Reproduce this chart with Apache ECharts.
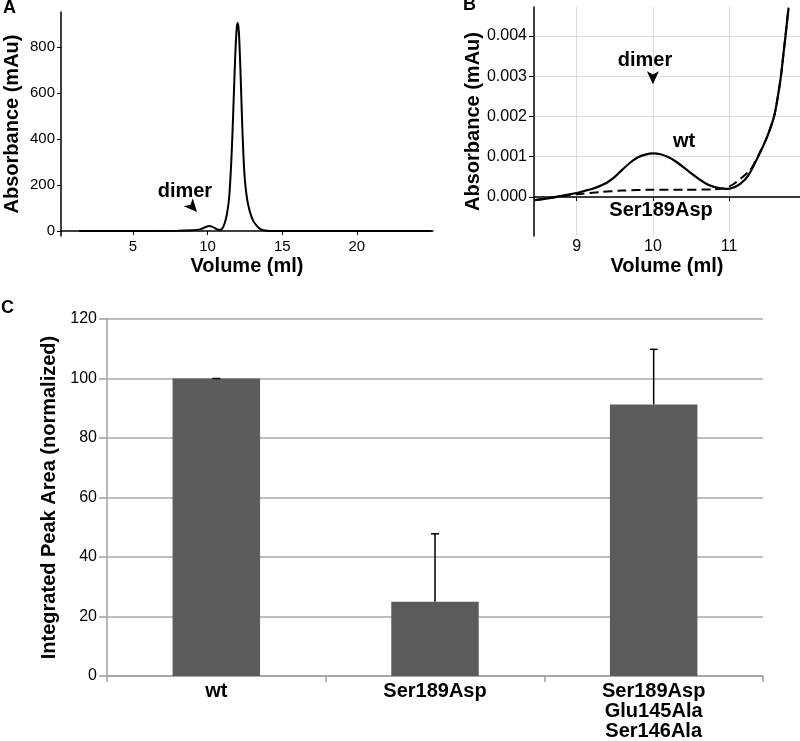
<!DOCTYPE html>
<html><head><meta charset="utf-8">
<script src="https://cdn.jsdelivr.net/npm/echarts@6/dist/echarts.min.js"></script>
<style>html,body{margin:0;padding:0;background:#fff}#c{width:800px;height:741px}</style>
</head><body><div id="c"></div>
<script>
// ---- Panel A: full chromatogram ----
const chromVolume = [1.4, 5, 8, 9, 9.5, 9.8, 10.1, 10.4, 10.65, 10.85, 11.0, 11.15, 11.3, 11.45, 11.6, 11.72, 11.85, 11.95, 12.02, 12.1, 12.2, 12.3, 12.4, 12.5, 12.6, 12.7, 12.85, 13.05, 13.3, 13.5, 13.75, 14.2, 25];
const chromAbs    = [0, 0, 1, 3, 7, 15, 22, 16, 7, 5, 12, 35, 75, 150, 320, 520, 760, 880, 905, 860, 700, 500, 330, 220, 160, 120, 80, 45, 22, 10, 3, 0, 0];
const ticksA_x = [5, 10, 15, 20];
const ticksA_y = [0, 200, 400, 600, 800];

// ---- Panel B: zoom on the dimer region ----
const wtVolume = [8.44, 8.6, 8.8, 9.0, 9.1, 9.2, 9.3, 9.4, 9.5, 9.6, 9.7, 9.8, 9.9, 10.0, 10.1, 10.2, 10.3, 10.4, 10.5, 10.6, 10.7, 10.8, 10.9, 10.97, 11.05, 11.15, 11.25, 11.38, 11.5, 11.59, 11.64, 11.68, 11.71, 11.74, 11.78];
const wtAbs    = [-0.00008, -0.00004, 0.00003, 0.0001, 0.00015, 0.0002, 0.00027, 0.00036, 0.0005, 0.00068, 0.00085, 0.00098, 0.00105, 0.00108, 0.00106, 0.00099, 0.00088, 0.00074, 0.00059, 0.00045, 0.00033, 0.00025, 0.00021, 0.0002, 0.00023, 0.00033, 0.00053, 0.001, 0.0015, 0.002, 0.0025, 0.003, 0.0035, 0.004, 0.0047];
const s189Volume = [8.44, 8.7, 9.0, 9.3, 9.6, 10.0, 10.4, 10.8, 10.95, 11.05, 11.15, 11.28, 11.38, 11.5, 11.59, 11.64, 11.68, 11.71, 11.74, 11.78];
const s189Abs    = [-0.00008, -0.00001, 0.00007, 0.00012, 0.00016, 0.00018, 0.00018, 0.00019, 0.00022, 0.00031, 0.00045, 0.00068, 0.00102, 0.0015, 0.002, 0.0025, 0.003, 0.0035, 0.004, 0.0047];
const ticksB_x = [9, 10, 11];
const ticksB_y = [0, 0.001, 0.002, 0.003, 0.004];

// ---- Panel C: integrated peak areas ----
const categories = ['wt', 'Ser189Asp', 'Ser189Asp\nGlu145Ala\nSer146Ala'];
const peakArea   = [100, 25, 91.3];
const peakErr    = [0, 22.8, 18.5];

const FONT = "'Liberation Sans', Arial, Helvetica, sans-serif";
const zip = (a, b) => a.map((v, i) => [v, b[i]]);
const boldTitle = {fontFamily: FONT, fontWeight: 'bold', fontSize: 20, color: '#000'};
const tickLab = (size) => ({fontFamily: FONT, fontSize: size, color: '#000'});
const annot = (coord, text) => ({coord, symbol: 'circle', symbolSize: 1, itemStyle: {color: 'rgba(0,0,0,0)'},
  label: {show: true, position: 'inside', formatter: text, fontFamily: FONT, fontWeight: 'bold', fontSize: 20, color: '#000'}});

const chart = echarts.init(document.getElementById('c'), null, {renderer: 'canvas'});
chart.setOption({
  animation: false,
  backgroundColor: '#fff',
  graphic: [
    {type: 'text', left: 3, top: -1, style: {text: 'A', font: "bold 18px " + FONT, fill: '#000'}},
    {type: 'text', left: 463, top: -4, style: {text: 'B', font: "bold 18px " + FONT, fill: '#000'}},
    {type: 'text', left: 1, top: 299, style: {text: 'C', font: "bold 18px " + FONT, fill: '#000'}}
  ],
  grid: [
    {left: 61, right: 367, top: 12, bottom: 505},
    {left: 534, right: 0, top: 7, bottom: 505},
    {left: 107, right: 37, top: 319, bottom: 63}
  ],
  xAxis: [
    {gridIndex: 0, type: 'value', min: 0.18, max: 25.1,
      axisLine: {lineStyle: {color: '#000', width: 1.5}},
      axisTick: {customValues: ticksA_x, length: 4, lineStyle: {color: '#000'}},
      axisLabel: Object.assign({customValues: ticksA_x, margin: 3}, tickLab(15)),
      splitLine: {show: false},
      name: 'Volume (ml)', nameLocation: 'middle', nameGap: 20, nameTextStyle: boldTitle},
    {gridIndex: 1, type: 'value', min: 8.44, max: 11.93,
      axisLine: {lineStyle: {color: '#000', width: 1.5}},
      axisTick: {customValues: ticksB_x, length: 4, lineStyle: {color: '#000'}},
      axisLabel: Object.assign({customValues: ticksB_x, margin: 3}, tickLab(16)),
      splitLine: {show: true, lineStyle: {color: '#dcdcdc', width: 1}},
      name: 'Volume (ml)', nameLocation: 'middle', nameGap: 20, nameTextStyle: boldTitle},
    {gridIndex: 2, type: 'category', data: categories,
      axisLine: {lineStyle: {color: '#a0a0a0', width: 1.5}},
      axisTick: {show: true, length: 6, alignWithLabel: false, lineStyle: {color: '#a0a0a0', width: 1.5}},
      axisLabel: {fontFamily: FONT, fontWeight: 'bold', fontSize: 20, lineHeight: 20, color: '#000', margin: 5, interval: 0}}
  ],
  yAxis: [
    {gridIndex: 0, type: 'value', min: -21.7, max: 952,
      axisLine: {show: true, lineStyle: {color: '#000', width: 1.5}},
      axisTick: {show: true, customValues: ticksA_y, length: 4, lineStyle: {color: '#000'}},
      axisLabel: Object.assign({customValues: ticksA_y, margin: 6}, tickLab(15)),
      splitLine: {show: false},
      name: 'Absorbance (mAu)', nameLocation: 'middle', nameGap: 39, nameTextStyle: boldTitle},
    {gridIndex: 1, type: 'value', min: -0.000968, max: 0.004715,
      axisLine: {show: true, lineStyle: {color: '#000', width: 1.5}},
      axisTick: {show: true, customValues: ticksB_y, length: 5, lineStyle: {color: '#000'}},
      axisLabel: Object.assign({customValues: ticksB_y, margin: 7, formatter: v => v.toFixed(3)}, tickLab(16)),
      splitLine: {show: true, lineStyle: {color: '#dcdcdc', width: 1}},
      name: 'Absorbance (mAu)', nameLocation: 'middle', nameGap: 44, nameTextStyle: boldTitle},
    {gridIndex: 2, type: 'value', min: 0, max: 120, interval: 20,
      axisLine: {show: true, lineStyle: {color: '#a0a0a0', width: 1.5}},
      axisTick: {show: true, length: 8, lineStyle: {color: '#a0a0a0', width: 1.5}},
      axisLabel: Object.assign({margin: 10}, tickLab(16)),
      splitLine: {show: true, lineStyle: {color: '#a8a8a8', width: 1.5}},
      name: 'Integrated Peak Area (normalized)', nameLocation: 'middle', nameGap: 39, nameTextStyle: boldTitle}
  ],
  series: [
    {type: 'line', xAxisIndex: 0, yAxisIndex: 0, data: zip(chromVolume, chromAbs), symbol: 'none',
      smooth: 0.3, lineStyle: {color: '#000', width: 2},
      markPoint: {silent: true, data: [
        annot([8.48, 171], 'dimer'),
        {coord: [9.29, 82.6], symbol: 'arrow', symbolSize: [9, 13], symbolRotate: -138, itemStyle: {color: '#000'}, label: {show: false}}
      ]}},
    {type: 'line', xAxisIndex: 1, yAxisIndex: 1, data: zip(wtVolume, wtAbs), symbol: 'none',
      smooth: 0.25, lineStyle: {color: '#000', width: 2.2},
      markPoint: {silent: true, data: [
        annot([9.897, 0.0034], 'dimer'),
        {coord: [10.0, 0.0028], symbol: 'arrow', symbolSize: [9, 13], symbolRotate: 180, itemStyle: {color: '#000'}, label: {show: false}},
        annot([10.41, 0.00137], 'wt'),
        annot([10.107, -0.00034], 'Ser189Asp')
      ]}},
    {type: 'line', xAxisIndex: 1, yAxisIndex: 1, data: zip(s189Volume, s189Abs), symbol: 'none',
      smooth: 0.25, lineStyle: {color: '#000', width: 2, type: [9, 5]}},
    {type: 'bar', xAxisIndex: 2, yAxisIndex: 2, data: peakArea, barWidth: '40%', itemStyle: {color: '#5b5b5b'}},
    {type: 'custom', xAxisIndex: 2, yAxisIndex: 2, z: 5,
      data: peakArea.map((v, i) => [i, v, peakErr[i]]),
      encode: {x: 0, y: 1},
      renderItem: function (params, api) {
        const i = api.value(0), v = api.value(1), e = api.value(2);
        const p0 = api.coord([i, v]);
        const p1 = api.coord([i, v + e]);
        const w = 8;
        return {type: 'group', children: [
          {type: 'line', shape: {x1: p0[0], y1: p0[1], x2: p1[0], y2: p1[1]}, style: {stroke: '#000', lineWidth: 1.5}},
          {type: 'line', shape: {x1: p1[0] - w / 2, y1: p1[1], x2: p1[0] + w / 2, y2: p1[1]}, style: {stroke: '#000', lineWidth: 1.5}}
        ]};
      }}
  ]
});
</script>
</body></html>
